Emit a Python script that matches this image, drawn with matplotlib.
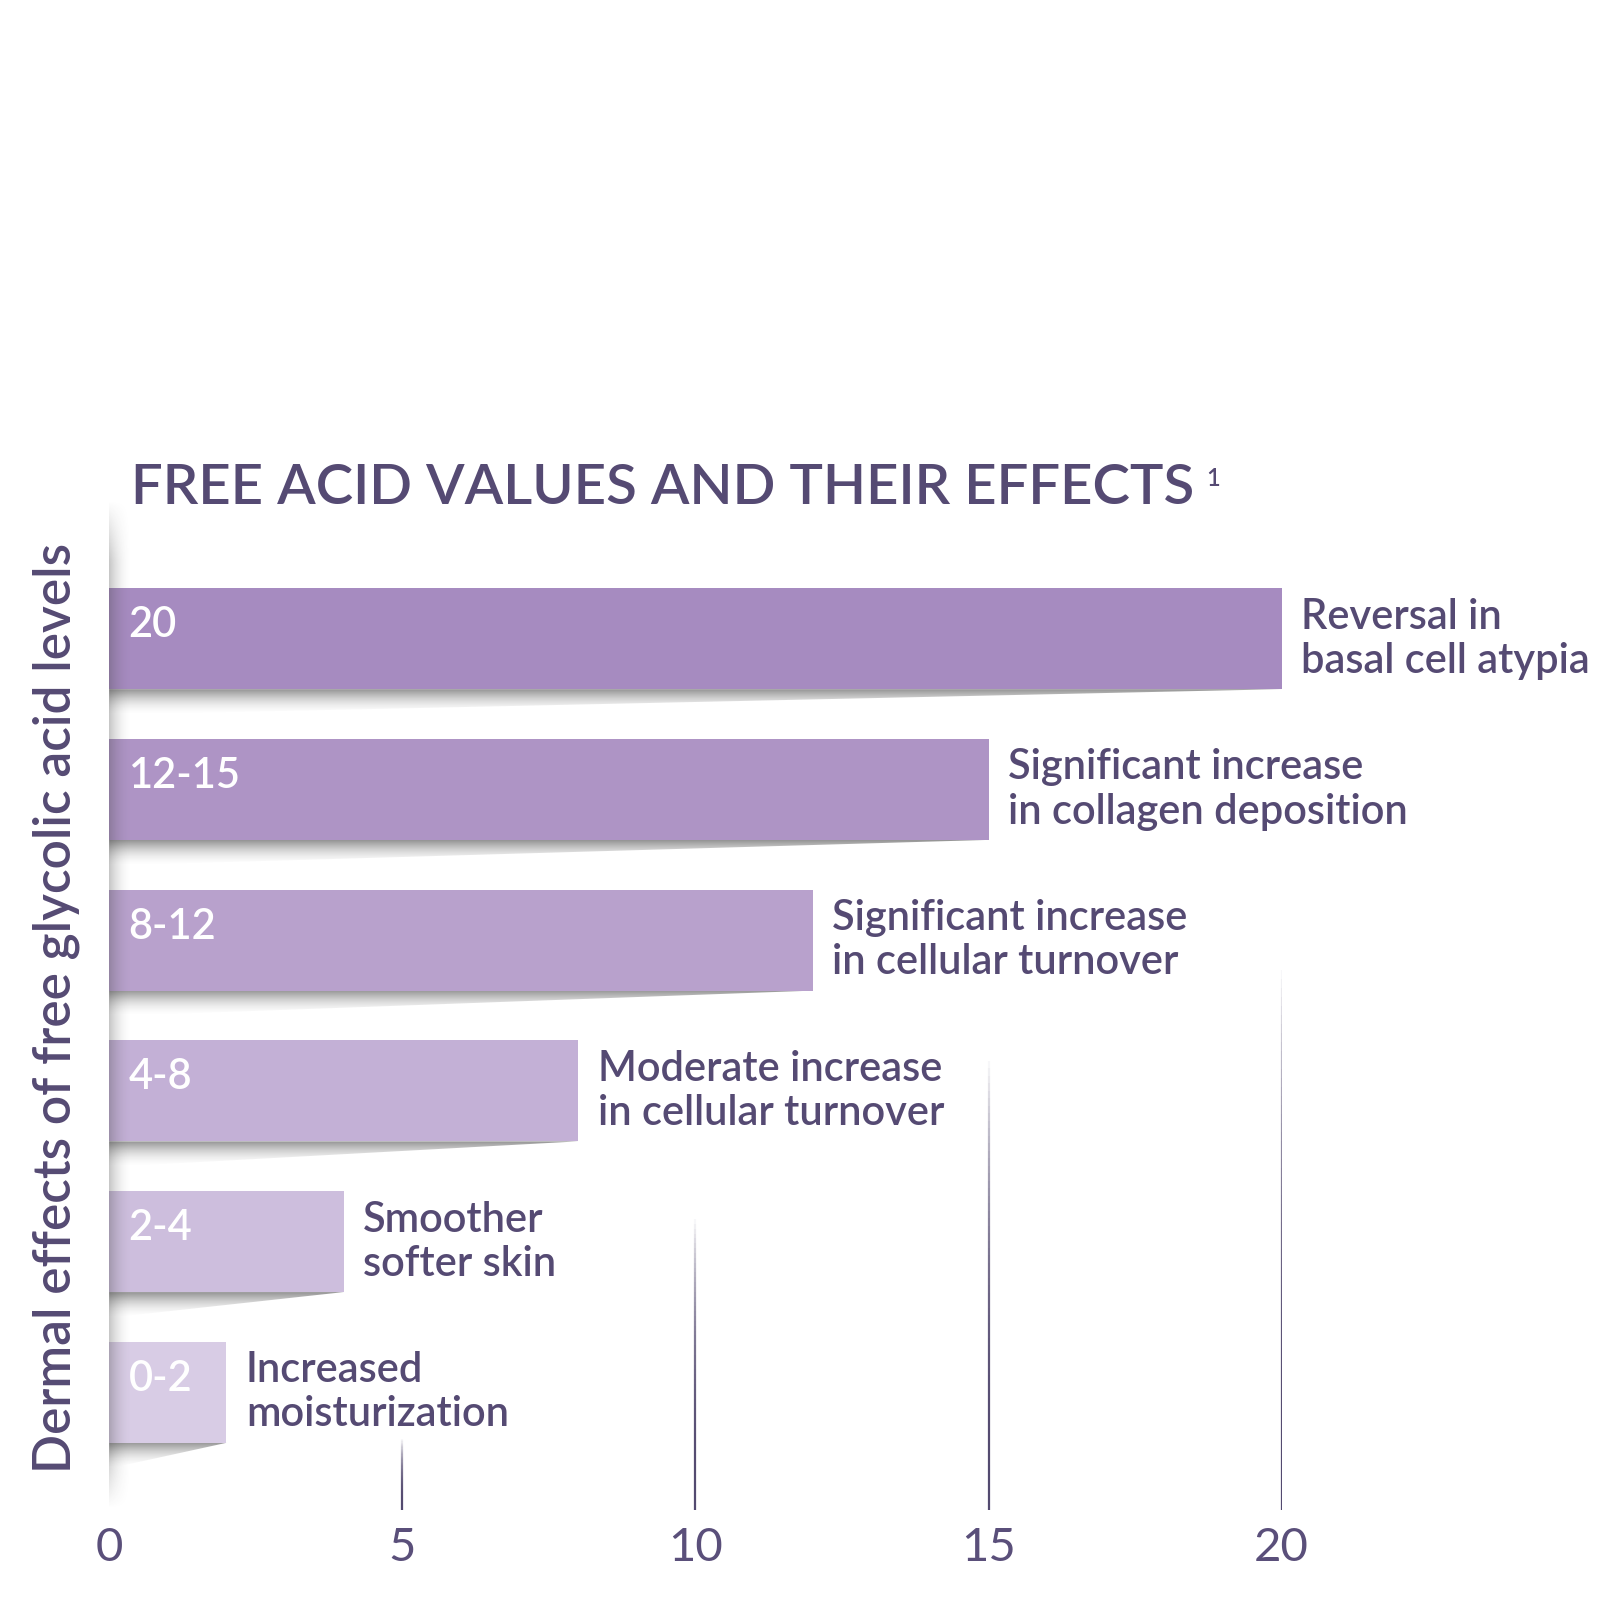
import matplotlib
matplotlib.use("Agg")
import matplotlib.pyplot as plt
import matplotlib.transforms as mtransforms
from matplotlib.patches import Polygon
import numpy as np

# ---- data ----
range_labels = ["0-2", "2-4", "4-8", "8-12", "12-15", "20"]
bar_values = [2, 4, 8, 12, 15, 20]
effects = ["Increased\nmoisturization",
           "Smoother\nsofter skin",
           "Moderate increase\nin cellular turnover",
           "Significant increase\nin cellular turnover",
           "Significant increase\nin collagen deposition",
           "Reversal in\nbasal cell atypia"]
bar_colors = ["#d8cce5", "#cdbedd", "#c3b0d6", "#b8a1cc", "#ae94c5", "#a68bc0"]
x_ticks = [0, 5, 10, 15, 20]
title = "FREE ACID VALUES AND THEIR EFFECTS"
ylabel = "Dermal effects of free glycolic acid levels"

TXT = "#554a73"
FONT = ["Lato", "DejaVu Sans"]
plt.rcParams["font.family"] = FONT

W = H = 1600
S = 1600 / 1568.0  # measured coords -> true pixels


def fx(p):
    return p * S / W


def fy(p):
    return 1 - p * S / H


fig = plt.figure(figsize=(16, 16), dpi=100)
fig.patch.set_facecolor("white")
ax = fig.add_axes([fx(107), fy(1480), fx(1256) - fx(107), fy(490) - fy(1480)])
ax.axis("off")

ypos = np.arange(len(bar_values))
bh = 0.67
ybot = -0.782
ytop = 5.92

# grid lines fading upward
grid_tops = {5: -0.31, 10: 1.15, 15: 2.2, 20: 2.8}
for xv in x_ticks[1:]:
    top = grid_tops[xv]
    n = 60
    ys = np.linspace(ybot, top, n + 1)
    for i in range(n):
        a = 1.0 - (i / n) ** 2.5
        ax.plot([xv, xv], [ys[i], ys[i + 1]], color="#4a4068", lw=1.6,
                alpha=max(a, 0) * 0.95, solid_capstyle="butt", zorder=1)

# vertical left shadow
gx = np.linspace(0, 1, 64)
gy = np.linspace(0, 1, 256)
GX, GY = np.meshgrid(gx, gy)
alpha = (1 - GX) ** 2 * 0.30 * np.clip(np.minimum(GY / 0.06, (1 - GY) / 0.06), 0, 1)
img = np.zeros((256, 64, 4))
img[..., 0:3] = 0.25
img[..., 3] = alpha
ax.imshow(img, extent=[0, 0.4, ybot, ytop], origin="lower", aspect="auto",
          zorder=4, interpolation="bilinear")

for y, v, lab, eff, c in zip(ypos, bar_values, range_labels, effects, bar_colors):
    ax.barh(y, v, height=bh, color=c, left=0, zorder=3, edgecolor="none")
    b = y - bh / 2
    poly = Polygon([[0, b], [v, b], [0, b - 0.17]], closed=True,
                   transform=ax.transData, facecolor="none", edgecolor="none")
    ax.add_patch(poly)
    sh = np.zeros((64, 2, 4))
    sh[..., 0:3] = 0.3
    t = np.linspace(0, 1, 64)[:, None]
    sh[..., 3] = (t ** 1.8) * 0.6
    im = ax.imshow(sh, extent=[0, v, b - 0.17, b], origin="lower", aspect="auto",
                   zorder=2, interpolation="bilinear")
    im.set_clip_path(poly)
    ax.text(0.33, y + 0.09, lab, color="white", fontsize=30, fontweight="semibold",
            va="center", ha="left", zorder=5)
    ax.text(v + 0.33, y, eff, color=TXT, fontsize=30, fontweight="semibold",
            va="center", ha="left", linespacing=1.2, zorder=5, clip_on=False)

ax.set_xlim(0, 20)
ax.set_ylim(ybot, ytop)

trans = mtransforms.blended_transform_factory(ax.transData, fig.transFigure)
for xv in x_ticks:
    ax.text(xv, fy(1517), str(xv), transform=trans, ha="center", va="center",
            fontsize=34, fontweight="normal", color="#5a4f7a", clip_on=False)

t = fig.text(fx(128), fy(494), title, fontsize=40.5, fontweight="semibold",
             color=TXT, ha="left", va="baseline")
fig.canvas.draw()
bb = t.get_window_extent()
fig.text((bb.x1 + 12) / W, fy(476), "1", fontsize=17, fontweight="semibold",
         color=TXT, ha="left", va="baseline")
fig.text(fx(55), fy(988), ylabel, rotation=90, fontsize=37,
         fontweight="semibold", color=TXT, ha="center", va="center")

fig.savefig("out.png", dpi=100, facecolor="white")
